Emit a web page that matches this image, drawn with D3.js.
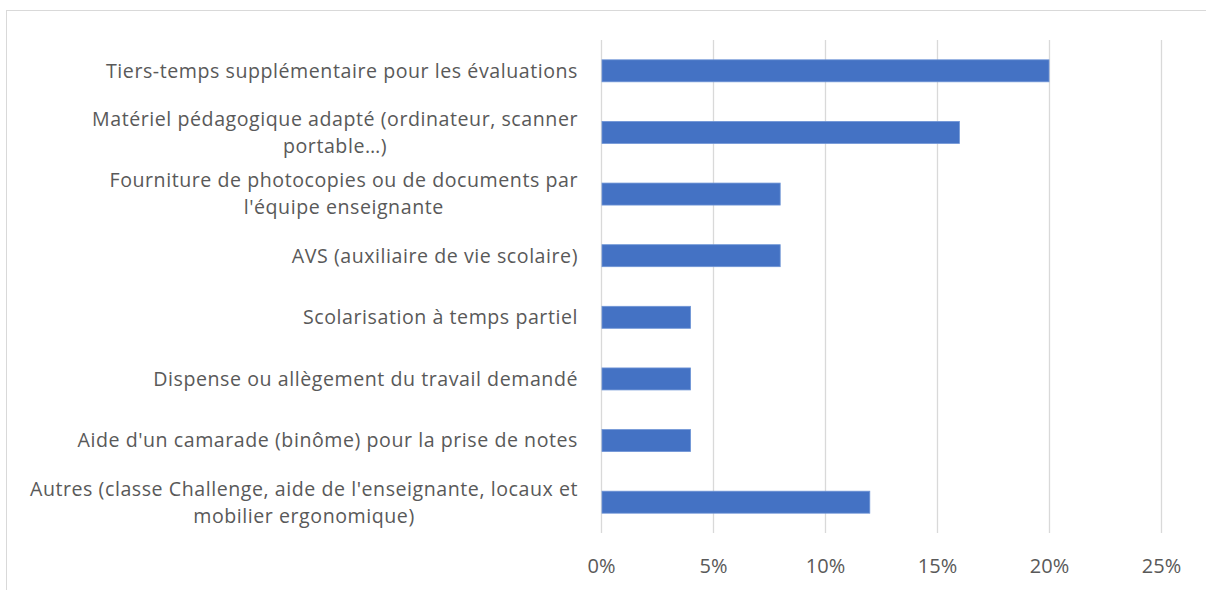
<!DOCTYPE html>
<html><head><meta charset="utf-8">
<script src="https://cdn.jsdelivr.net/npm/d3@7/dist/d3.min.js"></script>
<style>body{margin:0;background:#fff}svg{display:block}</style>
</head><body>
<svg id="c" width="1206" height="590"></svg>
<script>
// "\n" marks where the reference wraps a category label
const categories = [
  "Tiers-temps supplémentaire pour les évaluations",
  "Matériel pédagogique adapté (ordinateur, scanner\nportable…)",
  "Fourniture de photocopies ou de documents par\nl'équipe enseignante",
  "AVS (auxiliaire de vie scolaire)",
  "Scolarisation à temps partiel",
  "Dispense ou allègement du travail demandé",
  "Aide d'un camarade (binôme) pour la prise de notes",
  "Autres (classe Challenge, aide de l'enseignante, locaux et\nmobilier ergonomique)"
];
const values = [0.20, 0.16, 0.08, 0.08, 0.04, 0.04, 0.04, 0.12];
const tickValues = [0, 0.05, 0.10, 0.15, 0.20, 0.25];

(function () {
const svg = d3.select("#c");
const FONT = "'Open Sans', 'Noto Sans', sans-serif";
const textColor = "#595959";
const fs = 19.6;
const ls = 0.55;

// chart border
svg.append("rect").attr("x", 6.5).attr("y", 10.5).attr("width", 1220).attr("height", 600)
  .attr("fill", "none").attr("stroke", "#d9d9d9").attr("stroke-width", 1);

const pLeft = 601, pRight = 1161, pTop = 40, pBottom = 533;
const x = d3.scaleLinear().domain([0, 0.25]).range([pLeft, pRight]);
const p = 1 - 22 / ((pBottom - pTop) / categories.length);
const y = d3.scaleBand().domain(categories).range([pTop, pBottom]).paddingInner(p).paddingOuter(p / 2);

// gridlines
svg.append("g").selectAll("line").data(tickValues).join("line")
  .attr("x1", d => Math.round(x(d)) + 0.5).attr("x2", d => Math.round(x(d)) + 0.5)
  .attr("y1", pTop).attr("y2", pBottom)
  .attr("stroke", "#d9d9d9").attr("stroke-width", 1.3);

// bars
svg.append("g").selectAll("rect").data(values).join("rect")
  .attr("x", x(0) + 1).attr("y", (d, i) => y(categories[i]))
  .attr("width", d => x(d) - x(0) - 1).attr("height", y.bandwidth())
  .attr("fill", "#4472c4").attr("stroke", "#6f95d6").attr("stroke-width", 0.8);

// x axis tick labels
const xAxis = d3.axisBottom(x).tickValues(tickValues).tickFormat(d3.format(".0%")).tickSize(0).tickPadding(0);
const gx = svg.append("g").attr("transform", `translate(0,${pBottom + 33})`).call(xAxis);
gx.select(".domain").remove();
gx.selectAll("text").attr("font-family", FONT).attr("font-size", 20).attr("fill", textColor)
  .attr("dy", "0.35em").attr("y", 0);

// category labels: block right-aligned, wrapped lines centred on each other
const lineH = 27;
const labelRight = 578;
const gy = svg.append("g");
categories.forEach((c) => {
  const lines = c.split("\n");
  const t = gy.append("text").attr("font-family", FONT).attr("font-size", fs).attr("letter-spacing", ls);
  const widths = lines.map(l => { t.text(l); return t.node().getComputedTextLength(); });
  t.remove();
  const blockW = Math.max(...widths);
  const cx = labelRight - blockW / 2;
  const cy = y(c) + y.bandwidth() / 2;
  lines.forEach((l, k) => {
    gy.append("text").attr("font-family", FONT).attr("font-size", fs).attr("letter-spacing", ls)
      .attr("fill", textColor)
      .attr("text-anchor", "middle").attr("x", cx)
      .attr("y", cy + (k - (lines.length - 1) / 2) * lineH).attr("dy", "0.35em").text(l);
  });
});
})();
</script>
</body></html>
